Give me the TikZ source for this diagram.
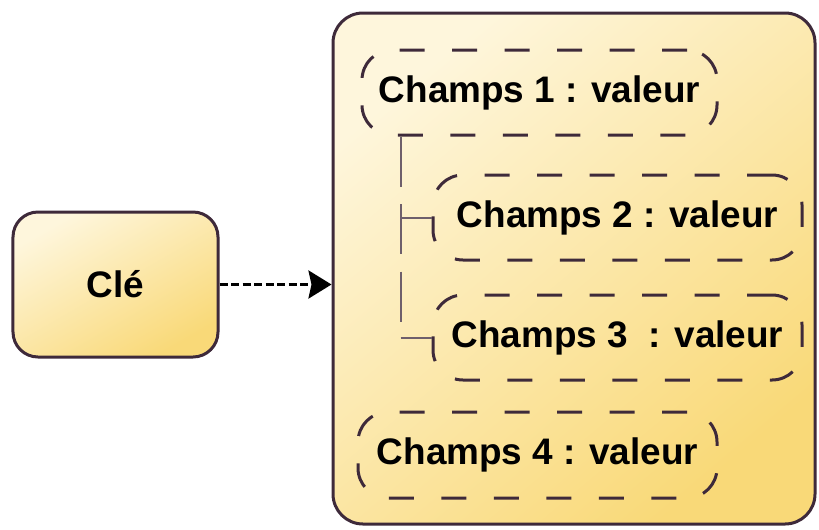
\documentclass[tikz,border=0pt]{standalone}
\usepackage{fontspec}
\setmainfont{Liberation Sans}
\usetikzlibrary{arrows.meta}
\definecolor{edge}{HTML}{3E2A3A}
\definecolor{cream}{HTML}{FEF6DC}
\definecolor{gold}{HTML}{F9D978}
\begin{document}
\begin{tikzpicture}[
	box/.style={draw=edge,line width=0.06cm,rounded corners=0.5cm,top color=cream,bottom color=gold,shading angle=30},
	field/.style={draw=edge,line width=0.06cm,rounded corners=0.6cm,dash pattern=on 0.5cm off 0.55cm,minimum height=1.7cm},
	branch/.style={draw=edge!75,line width=0.04cm,dash pattern=on 1cm off 0.35cm},
	twig/.style={draw=edge!75,line width=0.04cm},
	every node/.style={font=\bfseries\fontsize{21}{25}\selectfont,inner sep=0pt}]
	\useasboundingbox (0,0) rectangle (16.38,10.58);
	\node[box,minimum width=4.1cm,minimum height=2.9cm] (cle) at (2.31,4.89) {Clé};
	\node[box,rounded corners=0.6cm,minimum width=9.64cm,minimum height=10.22cm,shading angle=40] (doc) at (11.48,5.21) {};
	\draw[line width=0.06cm,dash pattern=on 0.16cm off 0.07cm,-{Stealth[length=0.46cm,width=0.56cm,inset=0.06cm]}] (cle.east) -- (cle.east -| doc.west);
	\node[field,minimum width=7.1cm] (c1) at (10.79,8.73) {Champs 1 : valeur};
	\node[field,minimum width=7.38cm] (c2) at (12.35,6.23) {Champs 2 : valeur};
	\node[field,minimum width=7.38cm] (c3) at (12.35,3.83) {Champs 3~ : valeur};
	\node[field,minimum width=7.18cm,minimum height=1.72cm] (c4) at (10.75,1.48) {Champs 4 : valeur};
	\coordinate (trunk) at ([xshift=0.8cm]c1.south west);
	\draw[branch] (trunk) -- (trunk |- c3.west);
	\draw[twig] (trunk |- c2.west) -- (c2.west);
	\draw[twig] (trunk |- c3.west) -- (c3.west);
\end{tikzpicture}
\end{document}
